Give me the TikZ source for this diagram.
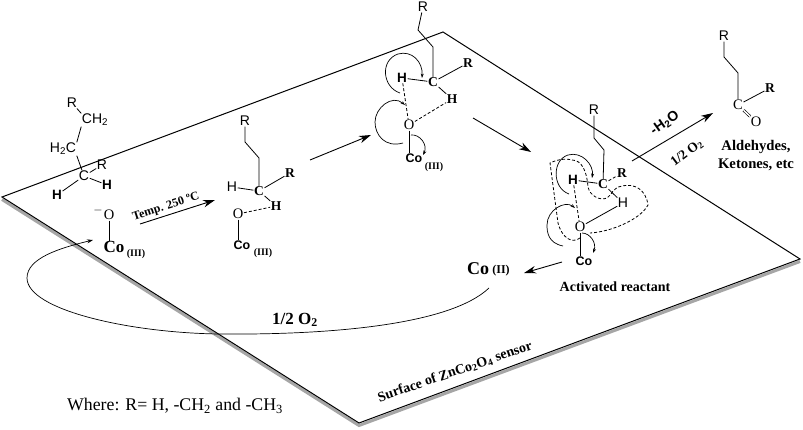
\documentclass[tikz,border=0pt]{standalone}
\usepackage{fontspec}
\setmainfont{Liberation Serif}
\setsansfont{Liberation Sans}
\usetikzlibrary{arrows.meta}

\begin{document}
\begin{tikzpicture}[
    x=1pt,y=-1pt,
    Atom/.style={inner sep=0.5pt,font=\sffamily\fontsize{14}{14}\selectfont},
    AtomB/.style={inner sep=0.5pt,font=\sffamily\bfseries\fontsize{13.5}{14}\selectfont},
    AtomS/.style={inner sep=0.5pt,font=\bfseries\fontsize{13.5}{14}\selectfont},
    AtomO/.style={inner sep=0.5pt,font=\fontsize{14.5}{14}\selectfont},
    CoSans/.style={inner sep=0.5pt,font=\sffamily\bfseries\fontsize{12.5}{13}\selectfont},
    Ox/.style={inner sep=0pt,font=\bfseries\fontsize{10}{10}\selectfont},
    Label/.style={inner sep=0pt,font=\bfseries\fontsize{14}{14}\selectfont},
    Bond/.style={line width=0.8pt},
    Dash/.style={line width=0.8pt,dash pattern=on 3pt off 2pt},
    Line/.style={-{Stealth[length=12pt,width=7.5pt]},line width=0.9pt},
    Curl/.style={-{Stealth[length=4.5pt,width=3pt]},line width=0.7pt},
    Plane/.style={line width=1pt,line join=miter},
    Shadow/.style={line width=3pt,gray!70,line join=miter},
    ]

    \useasboundingbox (0,0) rectangle (803,430);

    \coordinate (PlaneTop) at (443,32);
    \coordinate (PlaneLeft) at (2,197);
    \coordinate (PlaneBottom) at (359,423);
    \coordinate (PlaneRight) at (800,259);

    \draw[Shadow] ([yshift=-2.5pt]PlaneLeft) -- ([yshift=-2.5pt]PlaneBottom) -- ([yshift=-2.5pt]PlaneRight);
    \draw[Plane] (PlaneTop) -- (PlaneLeft) -- (PlaneBottom) -- (PlaneRight) -- cycle;

    \node[Atom]  (Ra)   at (72,103)  {R};
    \node[Atom]  (CHa)  at (95,120)  {CH\textsubscript{2}};
    \node[Atom]  (HCa)  at (63,149)  {H\textsubscript{2}C};
    \node[Atom]  (Ca)   at (84,176)  {C};
    \node[Atom]  (Rb)   at (102,165) {R};
    \node[AtomB] (Ha)   at (57,195)  {H};
    \node[AtomB] (Hb)   at (107,185) {H};
    \node[AtomO] (Oa)   at (109,215) {O};
    \node[inner sep=0pt,font=\bfseries\fontsize{12}{12}\selectfont] (Minus) at (98,211) {$-$};
    \node[inner sep=0.5pt,font=\bfseries\fontsize{17}{18}\selectfont] (Coa) at (114,247) {Co};
    \node[Ox]    (Coa3) at (136,254) {(III)};
    \draw[Bond] (Ra) -- (CHa.north west);
    \draw[Bond] (CHa.south west) -- (HCa.north east);
    \draw[Bond] (HCa.south east) -- (Ca);
    \draw[Bond] (Ca) -- (Rb);
    \draw[Bond] (Ca) -- (Ha);
    \draw[Bond] (Ca) -- (Hb);
    \draw[Bond] (Oa) -- (Coa.north -| Oa);

    \coordinate (TempStart) at (140,224);
    \coordinate (TempEnd) at (215,200);
    \draw[Line] (TempStart) -- (TempEnd);
    \node[inner sep=0pt,rotate=18,font=\bfseries\fontsize{12}{12}\selectfont] (Temp) at (166,207) {Temp. 250 ºC};

    \node[Atom]  (Rc)   at (245,121) {R};
    \coordinate  (Ka)   at (245,142);
    \coordinate  (Kb)   at (259,158);
    \node[AtomS] (Cb)   at (259,191) {C};
    \node[Atom]  (Hc)   at (232,187) {H};
    \node[AtomS] (Rd)   at (290,173) {R};
    \node[AtomS] (Hd)   at (276,206) {H};
    \node[AtomO] (Ob)   at (238,214) {O};
    \node[CoSans] (Cob) at (242,245) {Co};
    \node[Ox]    (Cob3) at (263,253) {(III)};
    \draw[Bond] (Rc) -- (Ka) -- (Kb) -- (Cb);
    \draw[Bond] (Hc) -- (Cb);
    \draw[Bond] (Cb) -- (Rd);
    \draw[Bond] (Cb) -- (Hd);
    \draw[Bond] (Ob) -- (Ob |- Cob.north);
    \draw[Dash] (Ob) -- (Hd);

    \coordinate (StepaStart) at (310,160);
    \coordinate (StepaEnd) at (371,135);
    \draw[Line] (StepaStart) -- (StepaEnd);

    \node[Atom]  (Re)   at (423,7)   {R};
    \coordinate  (Kc)   at (418,30);
    \coordinate  (Kd)   at (433,47);
    \node[AtomS] (Cc)   at (433,82)  {C};
    \node[AtomB] (He)   at (402,78)  {H};
    \node[AtomS] (Rf)   at (468,63)  {R};
    \node[AtomS] (Hf)   at (452,99)  {H};
    \node[AtomO] (Oc)   at (409,125) {O};
    \node[CoSans] (Coc) at (414,158) {Co};
    \node[Ox]    (Coc3) at (434,167) {(III)};
    \draw[Bond] (Re) -- (Kc) -- (Kd) -- (Cc);
    \draw[Bond] (He) -- (Cc);
    \draw[Bond] (Cc) -- (Rf);
    \draw[Bond] (Cc) -- (Hf);
    \draw[Bond] (Oc) -- (Oc |- Coc.north);
    \draw[Dash] (He) -- (Oc);
    \draw[Dash] (Oc) -- (Hf);
    \draw[Curl] (400,93) .. controls (382,87) and (380,60) .. (398,54) .. controls (412,50) and (423,62) .. (422,78);
    \draw[Curl] (403,143) .. controls (385,148) and (375,135) .. (375,122) .. controls (375,108) and (392,94) .. (405,105);
    \draw[Curl] (411,135) .. controls (420,134) and (428,145) .. (423,155);

    \coordinate (StepbStart) at (473,118);
    \coordinate (StepbEnd) at (531,152);
    \draw[Line] (StepbStart) -- (StepbEnd);

    \node[Atom]  (Rg)   at (594,110) {R};
    \coordinate  (Ke)   at (594,138);
    \coordinate  (Kf)   at (604,150);
    \node[AtomS] (Cd)   at (603,184) {C};
    \node[AtomB] (Hg)   at (573,180) {H};
    \node[AtomS] (Rh)   at (622,173) {R};
    \node[Atom]  (Hh)   at (623,203) {H};
    \node[AtomO] (Od)   at (580,227) {O};
    \node[CoSans] (Cod) at (584,261) {Co};
    \draw[Bond] (Rg) -- (Ke) -- (Kf) -- (Cd);
    \draw[Bond] (Hg) -- (Cd);
    \draw[Dash] (Cd) -- (Rh);
    \draw[Bond] (Cd) -- (Hh);
    \draw[Bond] (Od) -- (Hh);
    \draw[Bond] (Od) -- (Od |- Cod.north);
    \draw[Dash] (Hg) -- (Od);
    \draw[Curl] (569,194) .. controls (552,188) and (552,160) .. (568,155) .. controls (582,151) and (594,165) .. (592,178);
    \draw[Curl] (563,246) .. controls (548,243) and (547,232) .. (547,225) .. controls (547,210) and (565,200) .. (575,208);
    \draw[Curl] (582,233) .. controls (590,233) and (597,243) .. (593,253);
    \draw[Dash] (580,238) .. controls (572,244) and (562,238) .. (558,223) -- (550,163) .. controls (556,160) and (565,158) .. (572,160) .. controls (582,160) and (587,172) .. (588,187) .. controls (590,196) and (600,201) .. (607,198) .. controls (612,195) and (612,188) .. (622,186) .. controls (635,183) and (646,190) .. (648,205) .. controls (640,220) and (610,232) .. (590,233);

    \coordinate (StepcStart) at (562,262);
    \coordinate (StepcEnd) at (524,273);
    \draw[Line] (StepcStart) -- (StepcEnd);
    \node[Label] (Activated) at (615,287) {Activated reactant};

    \node[inner sep=0pt,font=\bfseries\fontsize{18}{18}\selectfont] (Cou) at (478,269) {Co};
    \node[inner sep=0pt,font=\bfseries\fontsize{12}{12}\selectfont] (Cou2) at (501,271) {(II)};
    \coordinate (CycleStart) at (489,288);
    \coordinate (CycleEnd) at (93,240);
    \draw[Curl,-{Stealth[length=6pt,width=4pt]}] (CycleStart) .. controls (450,325) and (330,335) .. (220,334) .. controls (130,333) and (27,310) .. (27,278) .. controls (27,258) and (60,248) .. (CycleEnd);
    \node[inner sep=0pt,font=\bfseries\fontsize{17}{18}\selectfont] (Oxygen) at (295,320) {1/2 O\textsubscript{2}};

    \coordinate (StepdStart) at (632,161);
    \coordinate (StepdEnd) at (713,113);
    \draw[Line] (StepdStart) -- (StepdEnd);
    \node[inner sep=0pt,rotate=35,font=\sffamily\bfseries\fontsize{14}{14}\selectfont] (Water) at (665,123) {-H\textsubscript{2}O};
    \node[inner sep=0pt,rotate=37,font=\bfseries\fontsize{13.5}{14}\selectfont] (OxygenB) at (687,153) {1/2 O\textsubscript{2}};

    \node[Atom]  (Ri)   at (724,36)  {R};
    \coordinate  (Kg)   at (724,57);
    \coordinate  (Kh)   at (738,73);
    \node[AtomO] (Ce)   at (738,105) {C};
    \node[AtomS] (Rj)   at (770,88)  {R};
    \node[AtomO] (Oe)   at (756,122) {O};
    \draw[Bond] (Ri) -- (Kg) -- (Kh) -- (Ce);
    \draw[Bond] (Ce) -- (Rj);
    \draw[Bond,double,double distance=1.5pt,line width=0.6pt] (Ce) -- (Oe);
    \node[Label,font=\bfseries\fontsize{14.7}{18}\selectfont,align=center] (Products) at (756,156) {Aldehydes,\\Ketones, etc};

    \node[inner sep=0pt,font=\fontsize{17.8}{18}\selectfont] (Where) at (175,406) {Where: R= H, -CH\textsubscript{2} and -CH\textsubscript{3}};
    \node[inner sep=0pt,rotate=19,font=\bfseries\fontsize{14}{14}\selectfont] (Surface) at (455,372) {Surface of ZnCo\textsubscript{2}O\textsubscript{4} sensor};
\end{tikzpicture}
\end{document}
